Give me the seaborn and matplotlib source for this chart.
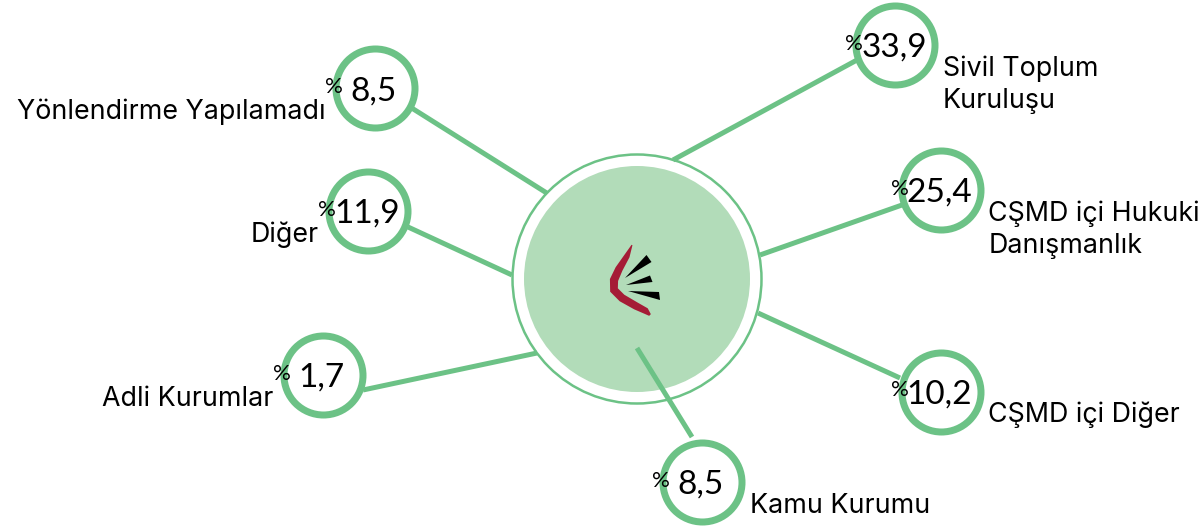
import numpy as np
import pandas as pd
import matplotlib.pyplot as plt
from matplotlib.patches import Circle, Polygon
import seaborn as sns

# data
categories = ["Yönlendirme Yapılamadı", "Diğer", "Adli Kurumlar", "Kamu Kurumu",
              "CŞMD içi Diğer", "CŞMD içi Hukuki\nDanışmanlık", "Sivil Toplum\nKuruluşu"]
values = [8.5, 11.9, 1.7, 8.5, 10.2, 25.4, 33.9]

# layout (pixel space, y grows downwards)
node_x = [374.5, 368, 322.5, 701.5, 940.5, 940.5, 895]
node_y = [88.3, 211, 374.5, 481.7, 391.5, 190, 44.5]
label_side = ["left", "left", "left", "right", "right", "right", "right"]
link_start = [(411.7, 108), (408, 227), (363, 390), (692, 437), (900, 378), (902, 205), (857, 60)]
link_end = [(546.7, 193), (512, 275), (537, 353), (637, 348), (758, 313), (760, 255), (673, 160)]
hub_xy = (637, 279)

GREEN = "#6cc286"
LIGHT = "#b2dcb9"
RED = "#a51c36"
PX = 0.72  # points per pixel at dpi 100
NODE_R = 43
RING_W = 7

sns.set_theme(style="white")
plt.rcParams["font.family"] = ["Lato", "DejaVu Sans"]
LABEL_FONT = ["Inter", "DejaVu Sans"]

fig = plt.figure(figsize=(12.04, 5.28), dpi=100)
ax = fig.add_axes([0, 0, 1, 1])
ax.set_xlim(0, 1204)
ax.set_ylim(528, 0)
ax.axis("off")

# central hub
ax.add_patch(Circle(hub_xy, 113, fc=LIGHT, ec="none", zorder=1))
ax.add_patch(Circle(hub_xy, 124.5, fc="none", ec=GREEN, lw=2.5 * PX, zorder=1))

# logo: red tapered crescent built around a spine, plus three black wedges
spine = np.array([(632, 245), (627, 256), (619, 269), (614, 280), (614, 290),
                  (622, 298), (636, 306), (646, 311), (650, 315)], dtype=float)
half_w = np.array([0.5, 2.8, 3.8, 4.2, 4.2, 4.0, 3.8, 3.2, 1.2])
d = np.gradient(spine, axis=0)
d /= np.linalg.norm(d, axis=1)[:, None]
nrm = np.column_stack([-d[:, 1], d[:, 0]])
red_shape = np.vstack([spine + nrm * half_w[:, None], (spine - nrm * half_w[:, None])[::-1]])
ax.add_patch(Polygon(red_shape, closed=True, fc=RED, ec="none", zorder=2))
wedges = [[(625, 278), (646.5, 255), (651.5, 262)],
          [(626, 285), (650, 275.5), (652.5, 282)],
          [(628, 291), (659, 292), (660, 300)]]
for w in wedges:
    ax.add_patch(Polygon(w, closed=True, fc="black", ec="none", zorder=2))

# connectors
for (x0, y0), (x1, y1) in zip(link_start, link_end):
    ax.plot([x0, x1], [y0, y1], color=GREEN, lw=5 * PX, solid_capstyle="butt", zorder=3)

# nodes
nodes = pd.DataFrame({"x": node_x, "y": node_y, "category": categories, "value": values})
diam_pt = 2 * (NODE_R - RING_W / 2) * PX
sns.scatterplot(data=nodes, x="x", y="y", ax=ax, marker="o", s=diam_pt ** 2,
                color="white", edgecolor=GREEN, linewidth=RING_W * PX, zorder=4, legend=False)
ax.set_xlim(0, 1204)
ax.set_ylim(528, 0)

for _, r in nodes.iterrows():
    x, y = r["x"], r["y"]
    num = f"{r['value']:.1f}".replace(".", ",")
    ax.text(x - 1, y + 12, num, fontsize=24, ha="center", va="baseline", color="black", zorder=5)
    ax.text(x - 41, y - 1, "%", fontsize=16, ha="center", va="center", color="black", zorder=6)

for i, r in nodes.iterrows():
    side = label_side[i]
    lines = r["category"].split("\n")
    if side == "left":
        lx, ha = r["x"] - NODE_R - 6, "right"
    else:
        lx, ha = r["x"] + NODE_R + 5, "left"
    for k, line in enumerate(lines):
        ax.text(lx, r["y"] + 31 + k * 32, line, fontsize=19.3, ha=ha, va="baseline",
                color="black", family=LABEL_FONT, zorder=5)

fig.savefig("out.png", dpi=100, facecolor="white")
